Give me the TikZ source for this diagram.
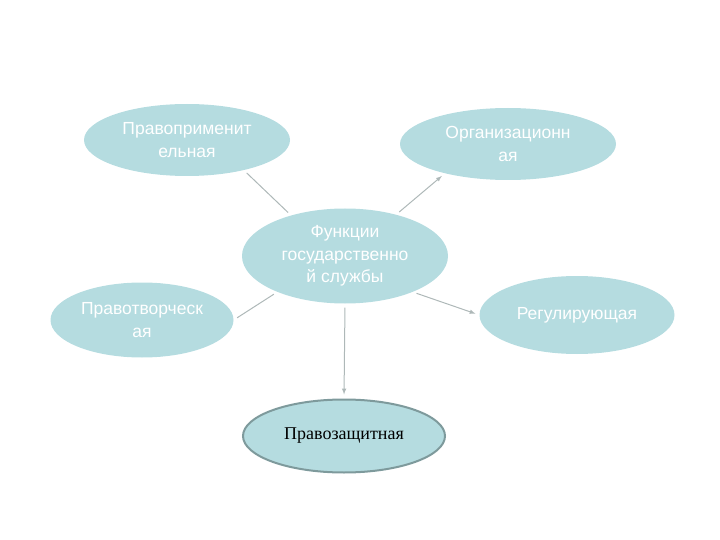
\documentclass[tikz,border=0pt]{standalone}
\usepackage{fontspec}
\setmainfont{Liberation Serif}
\setsansfont{Liberation Sans}
\usetikzlibrary{shapes.geometric}
\definecolor{bubble}{HTML}{B5DCE0}
\definecolor{wire}{HTML}{AEB8B8}
\definecolor{rim}{HTML}{7E9A9C}

\begin{document}
\begin{tikzpicture}[
  x=1pt,y=-1pt,
  fnode/.style={ellipse,fill=bubble,inner sep=0pt,align=center,text=white,
    font=\sffamily\fontsize{17.5}{22.5}\selectfont},
  link/.style={draw=wire,line width=1pt,shorten <=4pt,shorten >=4pt}
]
\useasboundingbox (0,0) rectangle (720,540);

\node[fnode,minimum width=206pt,minimum height=72pt] (prim) at (187,140) {Правоприменит\\ельная};
\node[fnode,minimum width=216pt,minimum height=72pt] (org) at (508,144) {Организационн\\ая};
\node[fnode,minimum width=206pt,minimum height=95pt] (fun) at (345,256) {Функции\\государственно\\й службы};
\node[fnode,minimum width=183pt,minimum height=75pt] (tvor) at (142,320) {Правотворческ\\ая};
\node[fnode,minimum width=195pt,minimum height=78pt] (reg) at (577,315) {Регулирующая};
\node[fnode,draw=rim,line width=2pt,text=black,font=\rmfamily\fontsize{18}{22}\selectfont,
  minimum width=202pt,minimum height=73pt] (zash) at (344,436) {Правозащитная};

\path (fun.143) edge[link] (prim.-28)
(fun.39) edge[link,-latex] (org.205)
(fun.208) edge[link] (tvor.east)
(fun.-28) edge[link,-latex] (reg.west)
(fun.south) edge[link,-latex] (zash.north)
;

\end{tikzpicture}
\end{document}
